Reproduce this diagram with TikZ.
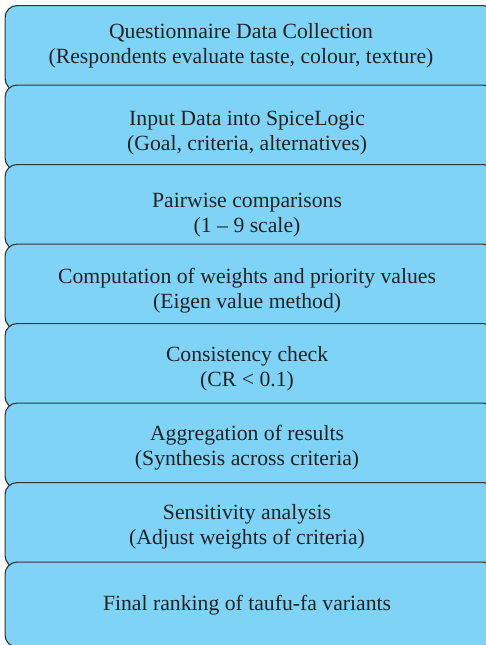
\documentclass[tikz,border=0pt]{standalone}
\usepackage{fontspec}
\setmainfont{Liberation Serif}
\usepackage{xcolor}
\usetikzlibrary{positioning,calc}

\definecolor{stepfill}{HTML}{7FD3F7}
\definecolor{stepline}{HTML}{333333}
\definecolor{steptext}{HTML}{222222}

\begin{document}
\begin{tikzpicture}[
  x=1pt,y=-1pt,
  stepbox/.style={draw=stepline,fill=stepfill,line width=1.1pt,rounded corners=12pt,
    minimum width=490pt,minimum height=85pt,inner sep=0pt,anchor=north west},
  steplabel/.style={align=center,text=steptext,font=\fontsize{21.7}{25}\selectfont,inner sep=0pt}
]

\clip (0,0) rectangle (486,645);
\fill[white] (0,0) rectangle (486,645);

\def\ystep{79.5}

\node[stepbox] (box1) at (4.5,5) {};
\node[steplabel] (txt1) at ($(box1.center)+(-9,-2)$) {Questionnaire Data Collection\\(Respondents evaluate taste, colour, texture)};

\node[stepbox] (box2) at (4.5,5+\ystep) {};
\node[steplabel] (txt2) at ($(box2.center)+(-3,6)$) {Input Data into SpiceLogic\\(Goal, criteria, alternatives)};

\node[stepbox] (box3) at (4.5,5+2*\ystep) {};
\node[steplabel] (txt3) at ($(box3.center)+(-3,8)$) {Pairwise comparisons\\(1 \textendash{} 9 scale)};

\node[stepbox] (box4) at (4.5,5+3*\ystep) {};
\node[steplabel] (txt4) at ($(box4.center)+(-3,4)$) {Computation of weights and priority values\\(Eigen value method)};

\node[stepbox] (box5) at (4.5,5+4*\ystep) {};
\node[steplabel] (txt5) at ($(box5.center)+(-3,3)$) {Consistency check\\(CR < 0.1)};

\node[stepbox] (box6) at (4.5,5+5*\ystep) {};
\node[steplabel] (txt6) at ($(box6.center)+(-3,2)$) {Aggregation of results\\(Synthesis across criteria)};

\node[stepbox] (box7) at (4.5,5+6*\ystep) {};
\node[steplabel] (txt7) at ($(box7.center)+(-3,2)$) {Sensitivity analysis\\(Adjust weights of criteria)};

\node[stepbox] (box8) at (4.5,5+7*\ystep) {};
\node[steplabel] (txt8) at ($(box8.center)+(-3,1)$) {Final ranking of taufu-fa variants};

\end{tikzpicture}
\end{document}
